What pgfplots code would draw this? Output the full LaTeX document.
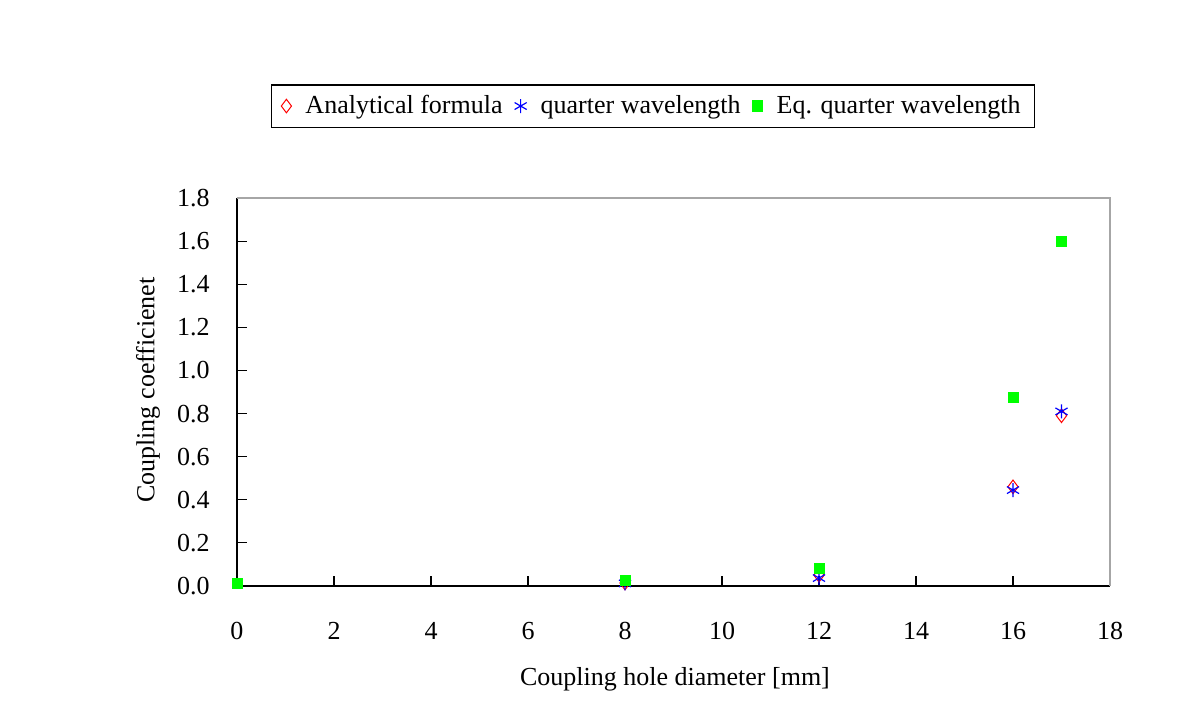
\documentclass[border=0pt]{standalone}
\usepackage{fontspec}
\setmainfont{Liberation Serif}
\usepackage{pgfplots}
\pgfplotsset{compat=1.18}
\definecolor{mgreen}{RGB}{0,255,0}
\begin{document}
\fontsize{13}{15}\selectfont
\begin{tikzpicture}
\path[use as bounding box] (-118.5pt,-68.5pt) rectangle (483.5pt,293pt);
\begin{axis}[
  at={(0,0)}, anchor=south west,
  scale only axis, width=436.5pt, height=194pt,
  xmin=0, xmax=18, ymin=0, ymax=1.8,
  xtick={0,2,...,18}, ytick={0,0.2,...,1.8},
  axis x line*=bottom, axis y line*=left,
  axis line style={black, line width=0.6pt, -},
  tick align=inside, major tick length=5pt,
  tick style={black, line width=0.6pt},
  /pgf/number format/assume math mode=true,
  tick label style={font=\fontsize{13}{15}\selectfont},
  yticklabel style={/pgf/number format/fixed, /pgf/number format/precision=1, /pgf/number format/fixed zerofill, anchor=east, inner sep=0pt, xshift=-13.5pt},
  xticklabel style={anchor=center, inner sep=0pt, yshift=-22.5pt},
  xlabel={Coupling hole diameter [mm]},
  ylabel={Coupling coefficienet},
  label style={font=\fontsize{13}{15}\selectfont},
  xlabel style={at={(rel axis cs:0.5017,0)}, anchor=center, yshift=-46.5pt},
  ylabel style={at={(rel axis cs:0,0.505)}, anchor=center, yshift=44.5pt},
  clip=false,
  legend columns=3,
  legend style={at={(rel axis cs:0.4765,1.237)}, anchor=center, draw=black, line width=0.6pt, font=\fontsize{13}{15}\selectfont, inner xsep=5pt, inner ysep=3pt,
    /tikz/every even column/.append style={column sep=4pt},
    /tikz/every odd column/.append style={column sep=5pt}},
  legend cell align=left,
  after end axis/.code={\draw[gray!70, line width=0.6pt] (rel axis cs:0,1) -- (rel axis cs:1,1) -- (rel axis cs:1,0);},
]
\addplot[only marks, mark=diamond, mark size=3.4pt, draw=red, mark options={fill=none, line width=0.5pt}] coordinates {
(8,0.014) (12,0.05) (16,0.46) (17,0.79)};
\addlegendentry{Analytical formula}
\addplot[only marks, mark=asterisk, mark size=3.5pt, draw=blue, mark options={line width=0.6pt}] coordinates {
(8,0.012) (12,0.037) (16,0.445) (17,0.81)};
\addlegendentry{quarter wavelength}
\addplot[only marks, mark=square*, mark size=2.5pt, draw=mgreen, fill=mgreen] coordinates {
(0,0.01) (8,0.025) (12,0.082) (16,0.873) (17,1.60)};
\addlegendentry{Eq. quarter wavelength}
\end{axis}
\end{tikzpicture}
\end{document}
